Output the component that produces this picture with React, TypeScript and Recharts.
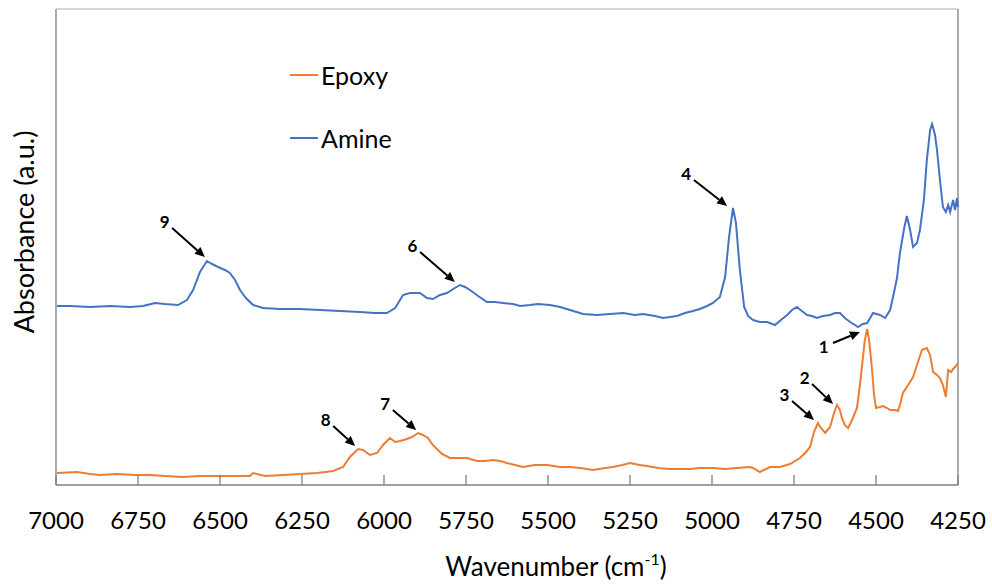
import React from "react";
import {
  LineChart,
  Line,
  XAxis,
  YAxis,
  Legend,
  ReferenceLine,
} from "recharts";

// Epoxy spectrum (wavenumber in cm-1, absorbance in a.u.)
const epoxyWavenumber = [
  6997, 6936, 6896, 6866, 6814, 6759, 6713, 6668, 6613, 6561, 6509, 6454, 6409, 6399, 6363,
  6308, 6256, 6204, 6155, 6125, 6104, 6079, 6064, 6043, 6021, 6003, 5982, 5966, 5951, 5930,
  5915, 5896, 5881, 5866, 5851, 5823, 5799, 5774, 5747, 5716, 5692, 5668, 5646, 5625, 5601,
  5576, 5540, 5503, 5463, 5433, 5402, 5363, 5326, 5302, 5274, 5250, 5220, 5198, 5165, 5128,
  5098, 5067, 5037, 4997, 4960, 4924, 4884, 4875, 4854, 4823, 4793, 4762, 4732, 4716, 4701,
  4689, 4677, 4668, 4655, 4640, 4628, 4619, 4610, 4604, 4595, 4585, 4573, 4558, 4549, 4543,
  4534, 4527, 4521, 4512, 4506, 4500, 4488, 4479, 4466, 4457, 4442, 4433, 4427, 4418, 4402,
  4387, 4375, 4360, 4345, 4335, 4326, 4314, 4305, 4296, 4287, 4280, 4271, 4265, 4256, 4250,
];
const epoxyAbsorbance = [
  0.12, 0.13, 0.11, 0.1, 0.11, 0.1, 0.1, 0.09, 0.08, 0.09, 0.09, 0.09, 0.09, 0.12, 0.09,
  0.1, 0.11, 0.12, 0.14, 0.18, 0.28, 0.36, 0.35, 0.3, 0.32, 0.4, 0.47, 0.43, 0.44, 0.46,
  0.48, 0.52, 0.5, 0.47, 0.4, 0.31, 0.27, 0.27, 0.27, 0.24, 0.24, 0.25, 0.24, 0.22, 0.2,
  0.18, 0.2, 0.2, 0.18, 0.18, 0.17, 0.15, 0.17, 0.18, 0.2, 0.22, 0.2, 0.19, 0.17, 0.16,
  0.16, 0.16, 0.17, 0.17, 0.16, 0.17, 0.18, 0.17, 0.13, 0.18, 0.18, 0.21, 0.27, 0.32, 0.38,
  0.53, 0.62, 0.57, 0.52, 0.58, 0.72, 0.8, 0.75, 0.67, 0.6, 0.57, 0.65, 0.77, 1.0, 1.18,
  1.45, 1.56, 1.45, 1.15, 0.9, 0.77, 0.78, 0.79, 0.77, 0.75, 0.75, 0.74, 0.8, 0.92, 1.0,
  1.08, 1.2, 1.35, 1.37, 1.3, 1.13, 1.1, 1.07, 1.0, 0.88, 1.15, 1.13, 1.16, 1.19, 1.22,
];

// Amine spectrum
const amineWavenumber = [
  6997, 6957, 6896, 6835, 6774, 6735, 6698, 6668, 6628, 6601, 6582, 6561, 6540, 6524, 6506,
  6485, 6470, 6454, 6439, 6421, 6399, 6369, 6317, 6256, 6195, 6134, 6073, 6027, 5991, 5966,
  5942, 5921, 5890, 5869, 5851, 5829, 5808, 5784, 5768, 5753, 5738, 5713, 5686, 5662, 5637,
  5607, 5585, 5555, 5531, 5494, 5463, 5433, 5393, 5351, 5311, 5271, 5235, 5210, 5174, 5149,
  5107, 5082, 5058, 5037, 5015, 4997, 4976, 4960, 4948, 4936, 4927, 4915, 4902, 4890, 4875,
  4854, 4832, 4808, 4790, 4771, 4756, 4741, 4726, 4710, 4695, 4680, 4662, 4640, 4625, 4610,
  4595, 4579, 4564, 4555, 4540, 4527, 4509, 4488, 4472, 4457, 4448, 4436, 4427, 4414, 4406,
  4396, 4387, 4375, 4366, 4354, 4345, 4335, 4329, 4320, 4314, 4305, 4296, 4287, 4280, 4274,
  4265, 4259, 4253, 4250,
];
const amineAbsorbance = [
  1.79, 1.79, 1.78, 1.79, 1.78, 1.79, 1.82, 1.81, 1.8, 1.85, 1.95, 2.13, 2.24, 2.21, 2.18,
  2.15, 2.12, 2.05, 1.95, 1.87, 1.8, 1.77, 1.76, 1.76, 1.75, 1.74, 1.73, 1.72, 1.72, 1.77,
  1.9, 1.92, 1.92, 1.87, 1.86, 1.9, 1.92, 1.97, 2.0, 1.98, 1.95, 1.89, 1.83, 1.83, 1.82,
  1.81, 1.79, 1.8, 1.81, 1.8, 1.78, 1.75, 1.71, 1.7, 1.71, 1.72, 1.7, 1.71, 1.69, 1.67,
  1.69, 1.72, 1.74, 1.76, 1.79, 1.82, 1.88, 2.08, 2.48, 2.77, 2.62, 2.15, 1.78, 1.69, 1.65,
  1.63, 1.63, 1.6, 1.65, 1.7, 1.75, 1.78, 1.74, 1.7, 1.69, 1.67, 1.69, 1.7, 1.72, 1.72,
  1.67, 1.63, 1.6, 1.58, 1.61, 1.62, 1.72, 1.7, 1.67, 1.75, 1.88, 2.07, 2.32, 2.57, 2.69,
  2.55, 2.38, 2.42, 2.55, 2.85, 3.25, 3.55, 3.61, 3.5, 3.35, 3.05, 2.78, 2.73, 2.8, 2.73,
  2.85, 2.75, 2.87, 2.78,
];

// Axis ticks and range
const xTicks = [7000, 6750, 6500, 6250, 6000, 5750, 5500, 5250, 5000, 4750, 4500, 4250];
const xMin = 4250;
const xMax = 7000;
const yMax = 4.76;

// Legend order
const seriesOrder = ["Epoxy", "Amine"];

// Numbered peak callouts: arrow tail and tip in (wavenumber, absorbance)
const peakLabels = ["9", "6", "4", "1", "2", "3", "7", "8"];
const tailWavenumber = [6646, 5890, 5055, 4631, 4695, 4756, 5973, 6155];
const tailAbsorbance = [2.57, 2.33, 3.05, 1.42, 1.01, 0.84, 0.75, 0.59];
const tipWavenumber = [6546, 5784, 4954, 4549, 4631, 4689, 5902, 6088];
const tipAbsorbance = [2.28, 2.03, 2.79, 1.53, 0.81, 0.65, 0.55, 0.39];

const epoxyData = epoxyWavenumber.map((w, i) => ({ w, v: epoxyAbsorbance[i] }));
const amineData = amineWavenumber.map((w, i) => ({ w, v: amineAbsorbance[i] }));

const FONT = "Lato, 'Open Sans', sans-serif";
const AXIS_GRAY = "#7f7f7f";

const BottomTick = (props: any) => {
  const { x, y, payload } = props;
  return (
    <g>
      <line x1={x} y1={y} x2={x} y2={y - 10} stroke={AXIS_GRAY} strokeWidth={1.3} />
      <text x={x} y={y + 44} textAnchor="middle" fontFamily={FONT} fontSize={24} fill="#000">
        {payload.value}
      </text>
    </g>
  );
};

const XTitle = (props: any) => {
  const vb = props.viewBox || {};
  const cx = (vb.x ?? 56) + (vb.width ?? 902) / 2 + 49;
  return (
    <text x={cx} y={576} textAnchor="middle" fontFamily={FONT} fontSize={26} fill="#000">
      Wavenumber (cm
      <tspan fontSize={16} dy={-11}>-1</tspan>
      <tspan dy={11}>)</tspan>
    </text>
  );
};

// Left frame edge, also carrying the rotated y-axis title
const LeftEdge = (props: any) => {
  const { x1, y1, x2, y2 } = props;
  if ([x1, y1, x2, y2].some((n) => typeof n !== "number" || isNaN(n))) return <g />;
  const cy = 232;
  const tx = x1 - 22;
  return (
    <g>
      <line x1={x1} y1={y1} x2={x2} y2={y2} stroke={AXIS_GRAY} strokeWidth={1.3} />
      <text
        x={tx}
        y={cy}
        transform={`rotate(-90 ${tx} ${cy})`}
        textAnchor="middle"
        fontFamily={FONT}
        fontSize={27}
        fill="#000"
      >
        Absorbance (a.u.)
      </text>
    </g>
  );
};

const makeArrow = (label: string) => (props: any) => {
  const { x1, y1, x2, y2 } = props;
  if ([x1, y1, x2, y2].some((n) => typeof n !== "number" || isNaN(n))) return <g />;
  const dx = x2 - x1;
  const dy = y2 - y1;
  const len = Math.sqrt(dx * dx + dy * dy) || 1;
  const ux = dx / len;
  const uy = dy / len;
  const head = 10;
  const half = 4.5;
  const bx = x2 - ux * head;
  const by = y2 - uy * head;
  const px = -uy;
  const py = ux;
  return (
    <g>
      <line x1={x1} y1={y1} x2={bx} y2={by} stroke="#000" strokeWidth={2} />
      <polygon
        points={`${x2},${y2} ${bx + px * half},${by + py * half} ${bx - px * half},${by - py * half}`}
        fill="#000"
      />
      <text
        x={x1 - ux * 10}
        y={y1 - uy * 10}
        textAnchor="middle"
        dominantBaseline="central"
        fontFamily={FONT}
        fontWeight="bold"
        fontSize={17}
        fill="#000"
      >
        {label}
      </text>
    </g>
  );
};

const LegendContent = (props: any) => {
  const items = [...(props.payload || [])].sort(
    (a: any, b: any) => seriesOrder.indexOf(a.value) - seriesOrder.indexOf(b.value)
  );
  return (
    <div style={{ fontFamily: FONT }}>
      {items.map((item: any, i: number) => (
        <div
          key={item.value}
          style={{
            display: "flex",
            alignItems: "center",
            height: 40,
            marginBottom: i === 0 ? 23 : 0,
          }}
        >
          <span
            style={{
              display: "inline-block",
              width: 28,
              height: 2,
              background: item.color,
              marginRight: 3,
            }}
          />
          <span style={{ fontSize: 25, color: "#000" }}>{item.value}</span>
        </div>
      ))}
    </div>
  );
};

export default function App() {
  return (
    <div style={{ position: "absolute", left: 0, top: 0, background: "#fff" }}>
      <LineChart
        width={992}
        height={585}
        margin={{ top: 9, right: 34, bottom: 40, left: 56 }}
      >
        <XAxis
          dataKey="w"
          type="number"
          domain={[xMin, xMax]}
          reversed
          ticks={xTicks}
          interval={0}
          height={60}
          tickSize={0}
          tickMargin={0}
          tickLine={false}
          axisLine={{ stroke: AXIS_GRAY, strokeWidth: 1.3 }}
          tick={<BottomTick />}
          label={<XTitle />}
        />
        <YAxis type="number" domain={[0, yMax]} hide />
        <Legend
          layout="vertical"
          align="center"
          verticalAlign="middle"
          content={<LegendContent />}
          wrapperStyle={{ left: 290, top: 55, width: 160, height: 110 }}
        />
        {/* plot frame: top, left and right edges */}
        <ReferenceLine y={yMax} stroke="#c8c8c8" strokeWidth={1.3} />
        <ReferenceLine
          segment={[
            { x: xMax, y: 0 },
            { x: xMax, y: yMax },
          ]}
          shape={LeftEdge}
        />
        <ReferenceLine x={xMin} stroke={AXIS_GRAY} strokeWidth={1.3} />
        <Line
          data={epoxyData}
          dataKey="v"
          name="Epoxy"
          type="linear"
          stroke="#ED7D31"
          strokeWidth={2}
          dot={false}
          isAnimationActive={false}
        />
        <Line
          data={amineData}
          dataKey="v"
          name="Amine"
          type="linear"
          stroke="#4472C4"
          strokeWidth={2}
          dot={false}
          isAnimationActive={false}
        />
        {peakLabels.map((label, i) => (
          <ReferenceLine
            key={label}
            segment={[
              { x: tailWavenumber[i], y: tailAbsorbance[i] },
              { x: tipWavenumber[i], y: tipAbsorbance[i] },
            ]}
            stroke="#000"
            shape={makeArrow(label)}
          />
        ))}
      </LineChart>
    </div>
  );
}
